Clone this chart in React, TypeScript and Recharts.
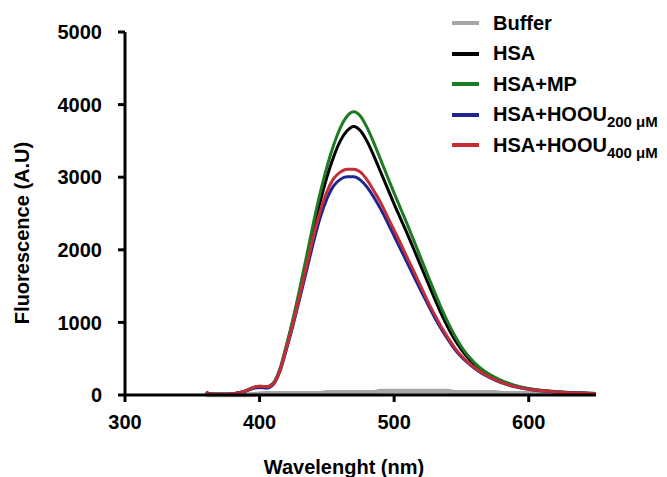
import React from 'react'
import { LineChart, Line, XAxis, YAxis, Legend, Label } from 'recharts'

// emission wavelength (nm)
const wavelengths = [
  360, 365, 370, 375, 380, 385, 390, 395, 400, 405, 410, 415, 420, 425, 430, 435, 440, 445, 450, 455,
  460, 465, 470, 475, 480, 485, 490, 495, 500, 505, 510, 515, 520, 525, 530, 535, 540, 545, 550, 555,
  560, 565, 570, 575, 580, 585, 590, 595, 600, 605, 610, 615, 620, 625, 630, 635, 640, 645, 650,
]

const buffer = [
  5, 5, 5, 5, 5, 5, 5, 8, 15, 20, 20, 20, 20, 20, 20, 20, 20, 20, 35, 35,
  35, 35, 35, 35, 35, 35, 50, 50, 50, 50, 50, 50, 50, 50, 50, 50, 50, 35, 35, 35,
  35, 35, 35, 35, 20, 20, 20, 20, 20, 20, 20, 20, 20, null, null, null, null, null, null,
]

const hsa = [
  30, 12, 10, 10, 15, 30, 60, 100, 115, 110, 155, 340, 670, 1030, 1430, 1850, 2270, 2660, 3000, 3280,
  3500, 3640, 3700, 3640, 3490, 3290, 3070, 2850, 2630, 2420, 2210, 1990, 1770, 1550, 1330, 1120, 930, 765, 625, 510,
  415, 340, 280, 230, 188, 153, 125, 102, 85, 72, 61, 52, 45, 39, 34, 30, 26, 23, 21,
]

const hsaMp = [
  30, 12, 10, 10, 15, 30, 60, 100, 120, 112, 160, 350, 690, 1060, 1480, 1920, 2370, 2780, 3140, 3440,
  3680, 3840, 3900, 3840, 3680, 3470, 3240, 3010, 2780, 2560, 2340, 2110, 1880, 1650, 1420, 1200, 1000, 820, 665, 540,
  440, 360, 295, 243, 198, 162, 132, 108, 88, 75, 63, 54, 46, 40, 35, 31, 27, 24, 22,
]

const hoou200 = [
  30, 12, 10, 10, 15, 30, 55, 90, 105, 95, 140, 320, 630, 970, 1340, 1720, 2100, 2440, 2700, 2880,
  2970, 3005, 3005, 2960, 2860, 2720, 2560, 2380, 2190, 2000, 1810, 1620, 1430, 1250, 1070, 910, 765, 630, 525, 440,
  365, 300, 248, 205, 166, 136, 112, 93, 78, 66, 56, 48, 42, 36, 31, 27, 24, 21, 19,
]

const hoou400 = [
  30, 12, 10, 10, 15, 30, 60, 100, 120, 112, 148, 330, 650, 1000, 1380, 1780, 2180, 2530, 2800, 2980,
  3070, 3110, 3110, 3070, 2960, 2810, 2650, 2460, 2270, 2080, 1880, 1690, 1490, 1290, 1110, 940, 790, 650, 540, 450,
  375, 310, 255, 210, 170, 140, 115, 95, 80, 68, 58, 50, 43, 37, 32, 28, 25, 22, 20,
]

const xTicks = [300, 400, 500, 600]
const yTicks = [0, 1000, 2000, 3000, 4000, 5000]

const seriesKeys = ['buffer', 'hsa', 'hsaMp', 'hoou200', 'hoou400']
const seriesNames = ['Buffer', 'HSA', 'HSA+MP', 'HSA+HOOU', 'HSA+HOOU']
const seriesSubs = ['', '', '', '200 μM', '400 μM']
const seriesColors = ['#a6a6a6', '#000000', '#1f7a24', '#1c2590', '#c42d36']
const seriesWidths = [5, 3, 3, 3, 3]
const seriesValues = [buffer, hsa, hsaMp, hoou200, hoou400]

const rows = wavelengths.map((wl, i) => {
  const row: any = { wl }
  seriesKeys.forEach((k, j) => {
    row[k] = seriesValues[j][i]
  })
  return row
})

const font = '"Liberation Sans", Arial, sans-serif'

function LegendBox() {
  return (
    <div style={{ fontFamily: font, fontWeight: 'bold', fontSize: 20, color: '#000' }}>
      {seriesKeys.map((k, i) => (
        <div key={k} style={{ display: 'flex', alignItems: 'center', height: 30.5 }}>
          <span style={{ display: 'inline-block', width: 27, height: 4, background: seriesColors[i], marginRight: 14 }} />
          <span style={{ whiteSpace: 'nowrap' }}>
            {seriesNames[i]}
            {seriesSubs[i] && (
              <span style={{ fontSize: 15, position: 'relative', top: 6 }}>{seriesSubs[i]}</span>
            )}
          </span>
        </div>
      ))}
    </div>
  )
}

export default function App() {
  return (
    <div style={{ position: 'absolute', left: 0, top: 0, background: '#fff' }}>
      <LineChart width={667} height={477} data={rows} margin={{ top: 32, right: 71, bottom: 42, left: 0 }}>
        <XAxis
          dataKey="wl"
          type="number"
          domain={[300, 650]}
          ticks={xTicks}
          allowDataOverflow
          height={40}
          tickSize={7}
          tickMargin={13}
          axisLine={{ stroke: '#000', strokeWidth: 3 }}
          tickLine={{ stroke: '#000', strokeWidth: 3 }}
          tick={{ fill: '#000', fontSize: 20, fontWeight: 'bold', fontFamily: font }}
        >
          <Label
            content={() => (
              <text x={344} y={474} textAnchor="middle" fill="#000" fontSize={20} fontWeight="bold" fontFamily={font}>
                Wavelenght (nm)
              </text>
            )}
          />
        </XAxis>
        <YAxis
          domain={[0, 5000]}
          ticks={yTicks}
          width={125}
          tickSize={7}
          tickMargin={16}
          axisLine={{ stroke: '#000', strokeWidth: 3 }}
          tickLine={{ stroke: '#000', strokeWidth: 3 }}
          tick={{ fill: '#000', fontSize: 20, fontWeight: 'bold', fontFamily: font }}
        >
          <Label
            content={() => (
              <text
                x={22}
                y={233}
                transform="rotate(-90 22 233)"
                textAnchor="middle"
                dominantBaseline="central"
                fill="#000"
                fontSize={20}
                fontWeight="bold"
                fontFamily={font}
              >
                Fluorescence (A.U)
              </text>
            )}
          />
        </YAxis>
        <Legend
          layout="vertical"
          align="center"
          verticalAlign="middle"
          wrapperStyle={{ top: 8, left: 452, width: 215 }}
          content={() => <LegendBox />}
        />
        {seriesKeys.map((k, i) => (
          <Line
            key={k}
            dataKey={k}
            name={seriesNames[i] + seriesSubs[i]}
            type="monotone"
            stroke={seriesColors[i]}
            strokeWidth={seriesWidths[i]}
            dot={false}
            connectNulls={false}
            isAnimationActive={false}
          />
        ))}
      </LineChart>
    </div>
  )
}
